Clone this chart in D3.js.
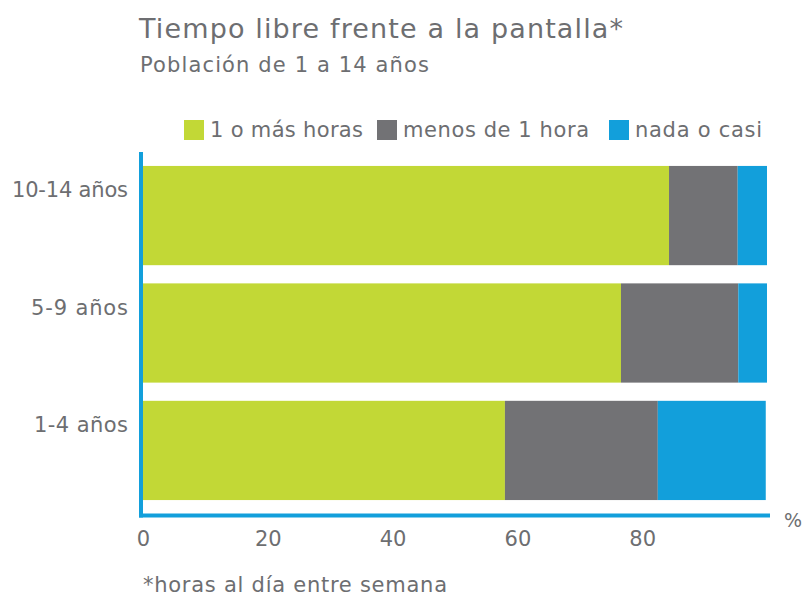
<!DOCTYPE html>
<html><head><meta charset="utf-8">
<script src="https://cdn.jsdelivr.net/npm/d3@7"></script>
<style>
body{margin:0;background:#fff;}
text{font-family:"DejaVu Sans",sans-serif;fill:#6d6e71;}
</style></head>
<body><svg id="c" width="802" height="602"></svg>
<script>
const categories = ["10-14 años", "5-9 años", "1-4 años"];
const seriesNames = ["1 o más horas", "menos de 1 hora", "nada o casi"];
const masHoras   = [84.3, 76.6, 58.0];
const menosHora  = [11.0, 18.8, 24.5];
const nadaCasi   = [4.7, 4.6, 17.3];
const tickValues = [0, 20, 40, 60, 80];
const colors = ["#c2d836", "#727275", "#129fdb"];

const svg = d3.select("#c");
const x = d3.scaleLinear().domain([0, 100]).range([143, 767]);
const y = d3.scaleBand().domain(categories).range([149.5, 516.5]).paddingInner(0.155).paddingOuter(0.14);

const rows = categories.map((c, i) => ({cat: c, s0: masHoras[i], s1: menosHora[i], s2: nadaCasi[i]}));
const stack = d3.stack().keys(["s0", "s1", "s2"])(rows);

svg.append("g").selectAll("g").data(stack).join("g")
  .attr("fill", (d, i) => colors[i])
  .selectAll("rect").data(d => d).join("rect")
  .attr("x", d => x(d[0]))
  .attr("y", d => y(d.data.cat))
  .attr("width", d => x(d[1]) - x(d[0]))
  .attr("height", y.bandwidth());

// axes
const xAxis = svg.append("g").attr("transform", "translate(0,515.5)")
  .call(d3.axisBottom(x).tickValues(tickValues).tickSize(0).tickPadding(16).tickFormat(d3.format("d")));
xAxis.select(".domain").remove();
xAxis.selectAll("text").style("font-size", "21px").style("fill", "#6d6e71").style("font-family", "DejaVu Sans");
svg.append("line").attr("x1", 139).attr("x2", 770).attr("y1", 515.5).attr("y2", 515.5)
  .attr("stroke", "#129fdb").attr("stroke-width", 4);

const yLabelWidths = [116, 97, 94];
const yAxis = svg.append("g").attr("transform", "translate(128,0)")
  .call(d3.axisLeft(y).tickSize(0).tickPadding(0));
yAxis.select(".domain").remove();
yAxis.selectAll("text").attr("dy", null).attr("y", -18.5)
  .attr("textLength", (d, i) => yLabelWidths[i]).attr("lengthAdjust", "spacing")
  .style("font-size", "21px").style("fill", "#6d6e71").style("font-family", "DejaVu Sans");
svg.append("line").attr("x1", 141).attr("x2", 141).attr("y1", 152).attr("y2", 517.5)
  .attr("stroke", "#129fdb").attr("stroke-width", 4);

svg.append("text").attr("x", 784).attr("y", 527).text("%").style("font-size", "19px");

// titles
svg.append("text").attr("x", 139).attr("y", 38).text("Tiempo libre frente a la pantalla*")
  .attr("textLength", 484).attr("lengthAdjust", "spacing").style("font-size", "27px");
svg.append("text").attr("x", 140).attr("y", 72).text("Población de 1 a 14 años")
  .attr("textLength", 289).attr("lengthAdjust", "spacing").style("font-size", "21px");
svg.append("text").attr("x", 143).attr("y", 592).text("*horas al día entre semana")
  .attr("textLength", 304).attr("lengthAdjust", "spacing").style("font-size", "21px");

// legend
const legX = [184, 377, 609];
const legW = [153, 186, 127];
const leg = svg.append("g");
seriesNames.forEach((n, i) => {
  leg.append("rect").attr("x", legX[i]).attr("y", 120).attr("width", 20).attr("height", 20).attr("fill", colors[i]);
  leg.append("text").attr("x", legX[i] + 26).attr("y", 137).text(n)
    .attr("textLength", legW[i]).attr("lengthAdjust", "spacing").style("font-size", "21px");
});
</script></body></html>
